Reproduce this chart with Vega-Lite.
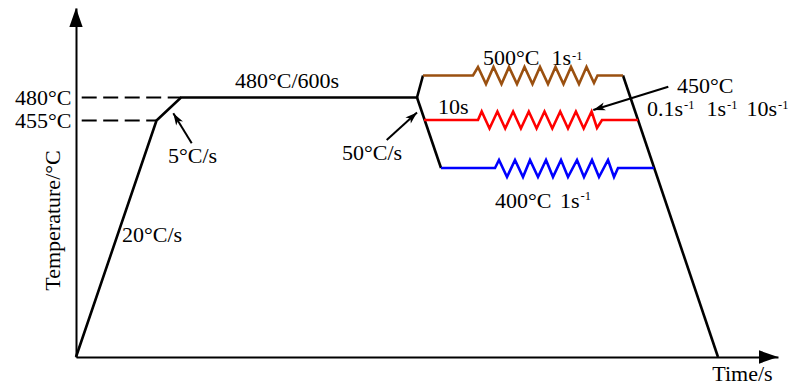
{
  "$schema": "https://vega.github.io/schema/vega-lite/v6.json",
  "width": 702,
  "height": 349,
  "autosize": "none",
  "padding": {"left": 76, "top": 8, "right": 17, "bottom": 27},
  "background": "white",
  "config": {"view": {"stroke": null}, "font": "Liberation Serif"},
  "datasets": {
    "guides": [
      {"level": "480°C", "x": 5.7, "y": 259.5},
      {"level": "480°C", "x": 105, "y": 259.5},
      {"level": "455°C", "x": 5.7, "y": 236.5},
      {"level": "455°C", "x": 80.5, "y": 236.5}
    ],
    "schedule": [
      {"seg": "heat", "series": "cycle", "x": 0, "y": 0},
      {"seg": "heat", "series": "cycle", "x": 80.5, "y": 236.5},
      {"seg": "heat", "series": "cycle", "x": 105, "y": 259.5},
      {"seg": "heat", "series": "cycle", "x": 341, "y": 259.5},
      {"seg": "heat", "series": "cycle", "x": 347, "y": 281.5},
      {"seg": "drop", "series": "cycle", "x": 341, "y": 259.5},
      {"seg": "drop", "series": "cycle", "x": 365, "y": 189},
      {"seg": "cool", "series": "cycle", "x": 547, "y": 281.5},
      {"seg": "cool", "series": "cycle", "x": 642, "y": 0},

      {"seg": "d500", "series": "500°C", "x": 347, "y": 281.5},
      {"seg": "d500", "series": "500°C", "x": 397, "y": 281.5},
      {"seg": "d500", "series": "500°C", "x": 402, "y": 290},
      {"seg": "d500", "series": "500°C", "x": 410, "y": 273},
      {"seg": "d500", "series": "500°C", "x": 417.5, "y": 290},
      {"seg": "d500", "series": "500°C", "x": 425.5, "y": 273},
      {"seg": "d500", "series": "500°C", "x": 433, "y": 290},
      {"seg": "d500", "series": "500°C", "x": 441, "y": 273},
      {"seg": "d500", "series": "500°C", "x": 448.5, "y": 290},
      {"seg": "d500", "series": "500°C", "x": 456.5, "y": 273},
      {"seg": "d500", "series": "500°C", "x": 464, "y": 290},
      {"seg": "d500", "series": "500°C", "x": 472, "y": 273},
      {"seg": "d500", "series": "500°C", "x": 479.5, "y": 290},
      {"seg": "d500", "series": "500°C", "x": 487.5, "y": 273},
      {"seg": "d500", "series": "500°C", "x": 495, "y": 290},
      {"seg": "d500", "series": "500°C", "x": 503, "y": 273},
      {"seg": "d500", "series": "500°C", "x": 510.5, "y": 290},
      {"seg": "d500", "series": "500°C", "x": 518, "y": 274},
      {"seg": "d500", "series": "500°C", "x": 521.5, "y": 281.5},
      {"seg": "d500", "series": "500°C", "x": 547, "y": 281.5},

      {"seg": "d450", "series": "450°C", "x": 348, "y": 237},
      {"seg": "d450", "series": "450°C", "x": 402, "y": 237},
      {"seg": "d450", "series": "450°C", "x": 405.7, "y": 245.5},
      {"seg": "d450", "series": "450°C", "x": 413.5, "y": 228.5},
      {"seg": "d450", "series": "450°C", "x": 421.4, "y": 245.5},
      {"seg": "d450", "series": "450°C", "x": 429.2, "y": 228.5},
      {"seg": "d450", "series": "450°C", "x": 437.1, "y": 245.5},
      {"seg": "d450", "series": "450°C", "x": 444.9, "y": 228.5},
      {"seg": "d450", "series": "450°C", "x": 452.8, "y": 245.5},
      {"seg": "d450", "series": "450°C", "x": 460.6, "y": 228.5},
      {"seg": "d450", "series": "450°C", "x": 468.5, "y": 245.5},
      {"seg": "d450", "series": "450°C", "x": 476.3, "y": 228.5},
      {"seg": "d450", "series": "450°C", "x": 484.2, "y": 245.5},
      {"seg": "d450", "series": "450°C", "x": 492, "y": 228.5},
      {"seg": "d450", "series": "450°C", "x": 499.9, "y": 245.5},
      {"seg": "d450", "series": "450°C", "x": 507.7, "y": 228.5},
      {"seg": "d450", "series": "450°C", "x": 515.6, "y": 245.5},
      {"seg": "d450", "series": "450°C", "x": 521, "y": 229},
      {"seg": "d450", "series": "450°C", "x": 526, "y": 237},
      {"seg": "d450", "series": "450°C", "x": 562, "y": 237},

      {"seg": "d400", "series": "400°C", "x": 365, "y": 189},
      {"seg": "d400", "series": "400°C", "x": 419, "y": 189},
      {"seg": "d400", "series": "400°C", "x": 423, "y": 197},
      {"seg": "d400", "series": "400°C", "x": 431, "y": 180},
      {"seg": "d400", "series": "400°C", "x": 439, "y": 197},
      {"seg": "d400", "series": "400°C", "x": 447, "y": 180},
      {"seg": "d400", "series": "400°C", "x": 454, "y": 197},
      {"seg": "d400", "series": "400°C", "x": 462, "y": 180},
      {"seg": "d400", "series": "400°C", "x": 470, "y": 197},
      {"seg": "d400", "series": "400°C", "x": 477, "y": 180},
      {"seg": "d400", "series": "400°C", "x": 485, "y": 197},
      {"seg": "d400", "series": "400°C", "x": 492, "y": 180},
      {"seg": "d400", "series": "400°C", "x": 501, "y": 197},
      {"seg": "d400", "series": "400°C", "x": 508, "y": 180},
      {"seg": "d400", "series": "400°C", "x": 516, "y": 197},
      {"seg": "d400", "series": "400°C", "x": 523, "y": 180},
      {"seg": "d400", "series": "400°C", "x": 532, "y": 197},
      {"seg": "d400", "series": "400°C", "x": 538, "y": 180},
      {"seg": "d400", "series": "400°C", "x": 542, "y": 189},
      {"seg": "d400", "series": "400°C", "x": 578, "y": 189}
    ],
    "arrows": [
      {"note": "5°C/s", "xt": 115.7, "yt": 213.7, "x": 97.3, "y": 243.7},
      {"note": "50°C/s", "xt": 310.7, "yt": 217, "x": 341, "y": 244.5},
      {"note": "450°C", "xt": 592.3, "yt": 270.3, "x": 517.3, "y": 247}
    ],
    "axisTips": [
      {"axis": "temperature", "x": 0, "y": 349},
      {"axis": "time", "x": 702, "y": 0}
    ],
    "labels": [
      {"label": "480°C/600s", "x": 159, "y": 269},
      {"label": "5°C/s", "x": 92, "y": 194},
      {"label": "20°C/s", "x": 46, "y": 115.5},
      {"label": "50°C/s", "x": 266, "y": 197},
      {"label": "10s", "x": 362, "y": 243},
      {"label": "500°C", "x": 407, "y": 292},
      {"label": "1s", "x": 475.5, "y": 292},
      {"label": "450°C", "x": 601, "y": 263.7},
      {"label": "0.1s", "x": 571, "y": 241},
      {"label": "1s", "x": 630.5, "y": 241},
      {"label": "10s", "x": 670.5, "y": 241},
      {"label": "400°C", "x": 419, "y": 148.7},
      {"label": "1s", "x": 484, "y": 148.7}
    ],
    "sups": [
      {"label": "-1", "x": 496, "y": 297},
      {"label": "-1", "x": 608, "y": 248},
      {"label": "-1", "x": 651, "y": 248},
      {"label": "-1", "x": 702, "y": 248},
      {"label": "-1", "x": 504.5, "y": 157}
    ]
  },
  "encoding": {
    "x": {
      "field": "x",
      "type": "quantitative",
      "scale": {"domain": [0, 702], "nice": false, "zero": false},
      "axis": {
        "title": "Time/s",
        "domain": true,
        "domainColor": "black",
        "domainWidth": 2,
        "ticks": false,
        "labels": false,
        "grid": false,
        "titleFont": "Liberation Serif",
        "titleFontSize": 22,
        "titleFontWeight": "normal",
        "titleColor": "black",
        "titleX": 666,
        "titleY": 23,
        "titleAlign": "center",
        "titleBaseline": "alphabetic"
      }
    },
    "y": {
      "field": "y",
      "type": "quantitative",
      "scale": {"domain": [0, 349], "nice": false, "zero": false},
      "axis": {
        "title": "Temperature/°C",
        "domain": true,
        "domainColor": "black",
        "domainWidth": 2,
        "ticks": false,
        "grid": false,
        "values": [259.5, 236.5],
        "labelExpr": "datum.value > 250 ? '480°C' : '455°C'",
        "labelFont": "Liberation Serif",
        "labelFontSize": 22,
        "labelColor": "black",
        "labelPadding": 5,
        "labelOverlap": false,
        "labelBound": false,
        "labelFlush": false,
        "titleFont": "Liberation Serif",
        "titleFontSize": 22,
        "titleFontWeight": "normal",
        "titleColor": "black",
        "titleAngle": 270,
        "titleX": -17,
        "titleY": 212,
        "titleAlign": "center",
        "titleBaseline": "alphabetic"
      }
    }
  },
  "layer": [
    {
      "data": {"name": "guides"},
      "mark": {"type": "line", "color": "black", "strokeWidth": 2, "strokeDash": [15, 6.5]},
      "encoding": {"detail": {"field": "level", "type": "nominal"}}
    },
    {
      "data": {"name": "schedule"},
      "mark": {"type": "line", "strokeWidth": 2.6, "strokeJoin": "miter"},
      "encoding": {
        "detail": {"field": "seg", "type": "nominal"},
        "color": {
          "field": "series",
          "type": "nominal",
          "scale": {"domain": ["cycle", "500°C", "450°C", "400°C"], "range": ["#000000", "#9A5010", "#FF0000", "#0000FF"]},
          "legend": null
        }
      }
    },
    {
      "data": {"name": "arrows"},
      "mark": {"type": "rule", "color": "black", "strokeWidth": 2},
      "encoding": {"x2": {"field": "xt"}, "y2": {"field": "yt"}}
    },
    {
      "data": {"name": "arrows"},
      "transform": [{"calculate": "atan2(datum.x - datum.xt, datum.y - datum.yt) * 180 / PI", "as": "heading"}],
      "mark": {"type": "point", "shape": "M0,0L-0.5,1.5L0,1.1L0.5,1.5Z", "filled": true, "color": "black", "opacity": 1, "size": 256},
      "encoding": {"angle": {"field": "heading", "type": "quantitative", "scale": null}}
    },
    {
      "data": {"name": "axisTips"},
      "transform": [{"calculate": "datum.axis === 'time' ? 90 : 0", "as": "heading"}],
      "mark": {"type": "point", "shape": "M0,0L-0.35,1L0.35,1Z", "filled": true, "color": "black", "opacity": 1, "size": 1444},
      "encoding": {"angle": {"field": "heading", "type": "quantitative", "scale": null}}
    },
    {
      "data": {"name": "labels"},
      "mark": {"type": "text", "align": "left", "baseline": "alphabetic", "font": "Liberation Serif", "fontSize": 22, "color": "black"},
      "encoding": {"text": {"field": "label", "type": "nominal"}}
    },
    {
      "data": {"name": "sups"},
      "mark": {"type": "text", "align": "left", "baseline": "alphabetic", "font": "Liberation Serif", "fontSize": 12.5, "color": "black"},
      "encoding": {"text": {"field": "label", "type": "nominal"}}
    }
  ]
}
